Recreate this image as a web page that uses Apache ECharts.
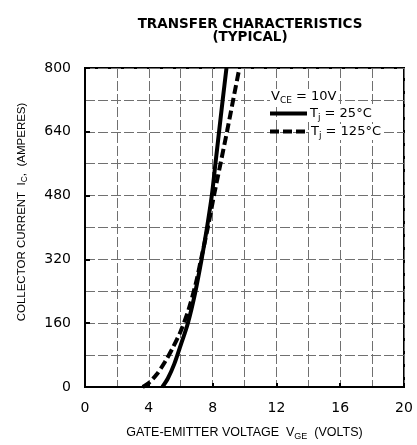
<!DOCTYPE html>
<html><head><meta charset="utf-8">
<script src="https://cdn.jsdelivr.net/npm/echarts@6/dist/echarts.min.js"></script>
<style>html,body{margin:0;padding:0;background:#fff}#c{width:417px;height:445px}</style>
</head><body><div id="c"></div>
<script>
const xTicks = [0, 4, 8, 12, 16, 20];
const yTicks = [0, 160, 320, 480, 640, 800];
const tj25 = [[4.85,0],[5.2,22],[5.6,58],[6.0,105],[6.45,160],[6.9,235],[7.3,318],[7.65,400],[7.95,480],[8.18,561],[8.41,642],[8.64,722],[8.87,800]];
const tj125 = [[3.62,0],[4.0,10],[4.5,32],[5.0,62],[5.5,98],[6.0,140],[6.5,195],[6.95,260],[7.3,325],[7.7,400],[8.09,481],[8.5,561],[8.91,642],[9.3,722],[9.68,800]];
const ff = 'Liberation Sans, Arial, sans-serif';
const fd = 'DejaVu Sans, sans-serif';
const chart = echarts.init(document.getElementById('c'));
const splitStyle = {show:true, lineStyle:{color:'#707070', width:1, type:[10,3]}};
const subRich = (fs, sub) => ({t:{fontFamily:fd,fontSize:fs,fill:'#000',color:'#000'}, s:{fontFamily:fd,fontSize:sub,fill:'#000',color:'#000',padding:[7,0,0,0]}});
chart.setOption({
  animation:false,
  title:{text:'TRANSFER CHARACTERISTICS\n(TYPICAL)', left:245, top:13, textAlign:'center',
    textStyle:{fontFamily:fd, fontSize:13.5, fontWeight:'bold', color:'#000', lineHeight:13}},
  grid:{left:85, right:13, top:68, bottom:58, show:true, borderColor:'#000', borderWidth:2,
    containLabel:false, outerBoundsMode:'none'},
  graphic:[
    {type:'text', left:270, top:89, z:100,
      style:{rich:subRich(13,9), text:'{t|V}{s|CE}{t| = 10V}', backgroundColor:'#fff', padding:[0,2,0,1]}},
    {type:'line', z:100, shape:{x1:270, y1:113.5, x2:307, y2:113.5}, style:{stroke:'#000', lineWidth:4}},
    {type:'text', left:308, top:106, z:100,
      style:{rich:subRich(13,9), text:'{t|T}{s|j}{t| = 25°C}', backgroundColor:'#fff', padding:[0,2,0,2]}},
    {type:'line', z:100, shape:{x1:270, y1:131.5, x2:308, y2:131.5}, style:{stroke:'#000', lineWidth:4, lineDash:[9,4]}},
    {type:'text', left:309, top:124, z:100,
      style:{rich:subRich(13,9), text:'{t|T}{s|j}{t| = 125°C}', backgroundColor:'#fff', padding:[0,2,0,2]}},
    {type:'text', x:22, y:212, rotation:Math.PI/2, z:100,
      style:{rich:{t:{fontFamily:ff,fontSize:11.5,fill:'#000'}, s:{fontFamily:ff,fontSize:8.5,fill:'#000',padding:[6,0,0,0]}},
        text:'{t|COLLECTOR CURRENT  I}{s|C}{t|,  (AMPERES)}', align:'center', verticalAlign:'middle'}}
  ],
  xAxis:{type:'value', min:0, max:20, interval:4,
    name:'GATE-EMITTER VOLTAGE  V{s|GE}  (VOLTS)', nameLocation:'middle', nameGap:38,
    nameTextStyle:{fontFamily:ff, fontSize:12.5, color:'#000', rich:{s:{fontFamily:ff,fontSize:9,padding:[7,0,0,0],color:'#000'}}},
    axisLine:{lineStyle:{color:'#000', width:2}},
    axisTick:{show:true, inside:true, length:4, lineStyle:{color:'#000', width:2}},
    minorTick:{show:false, splitNumber:2},
    splitLine:splitStyle, minorSplitLine:splitStyle,
    axisLabel:{fontFamily:fd, fontSize:14, color:'#000', margin:14}},
  yAxis:{type:'value', min:0, max:800, interval:160,
    axisLine:{lineStyle:{color:'#000', width:2}},
    axisTick:{show:true, inside:true, length:5, lineStyle:{color:'#000', width:2}},
    minorTick:{show:false, splitNumber:2},
    splitLine:splitStyle, minorSplitLine:splitStyle,
    axisLabel:{fontFamily:fd, fontSize:14, color:'#000', margin:14}},
  series:[
    {name:'Tj = 25°C', type:'line', data:tj25, smooth:0.3, symbol:'none', clip:true,
      lineStyle:{color:'#000', width:4}},
    {name:'Tj = 125°C', type:'line', data:tj125, smooth:0.3, symbol:'none', clip:true,
      lineStyle:{color:'#000', width:4, type:[9,4]}}
  ]
});
</script></body></html>
